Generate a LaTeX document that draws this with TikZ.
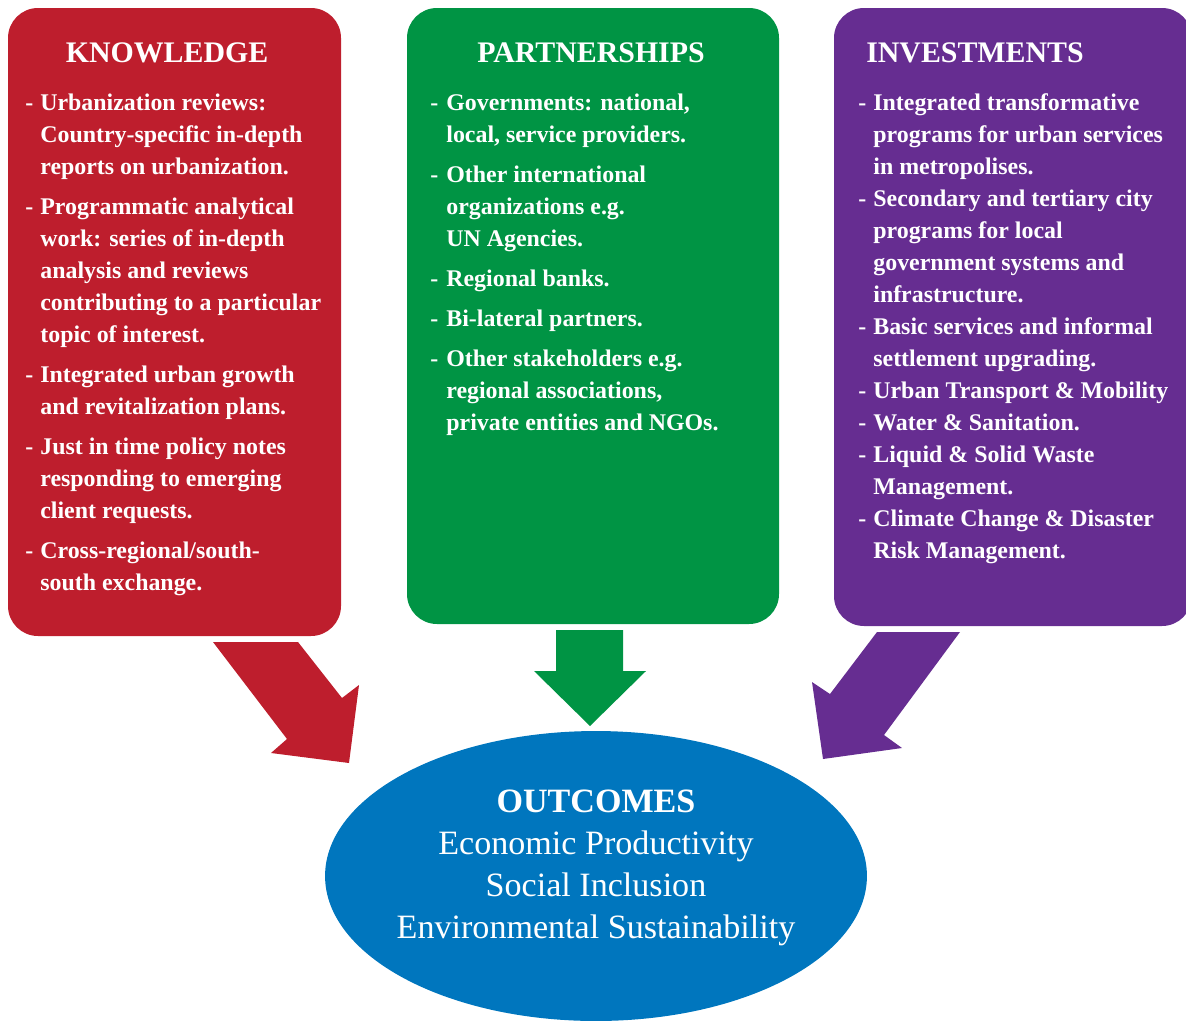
\documentclass[tikz,border=0pt]{standalone}
\usepackage{fontspec}
\setmainfont{Liberation Serif}
\usetikzlibrary{shapes.geometric}
\definecolor{knowledge red}{RGB}{190,30,45}
\definecolor{partner green}{RGB}{0,148,68}
\definecolor{invest purple}{RGB}{102,45,145}
\definecolor{outcome blue}{RGB}{0,118,190}

\begin{document}
\begin{tikzpicture}[x=0.02cm, y=-0.02cm,
		panel/.style={rounded corners=0.6cm},
		title/.style={text=white, inner sep=0, anchor=base, font=\fontsize{17}{20}\selectfont\bfseries},
		hyphen/.style={text=white, inner sep=0, anchor=base west, font=\fontsize{13.6}{18.2}\selectfont\bfseries},
		entry/.style={text=white, inner sep=0, anchor=base west, align=left, font=\fontsize{13.6}{18.2}\selectfont\bfseries}]
			\useasboundingbox (0, 0) rectangle (1186, 1021);
			% panels
			\fill[knowledge red, panel] (8, 8) rectangle (341, 636);
			\fill[partner green, panel] (407, 8) rectangle (779, 624);
			\fill[invest purple, panel] (834, 8) rectangle (1192, 626);
			% block arrows
			\fill[knowledge red] (213, 642) -- (298, 642) -- (342, 698) -- (359, 685)
				-- (349, 763) -- (271, 753) -- (287, 739) -- cycle;
			\fill[partner green] (556, 630) -- (623, 630) -- (623, 671) -- (646, 671)
				-- (590, 726) -- (534, 671) -- (556, 671) -- cycle;
			\fill[invest purple] (877, 632) -- (960, 632) -- (884, 735) -- (902, 748)
				-- (823, 759) -- (812, 682) -- (830, 694) -- cycle;
			% outcomes (base = last line)
			\node[ellipse, fill=outcome blue, inner sep=0, minimum width=10.84cm, minimum height=5.8cm] (out) at (596, 876) {};
			\node[text=white, inner sep=0, anchor=base, align=center, font=\fontsize{19.4}{23.8}\selectfont] (outlbl) at (596, 938)
				{\bfseries OUTCOMES\\Economic Productivity\\Social Inclusion\\Environmental Sustainability};
			% knowledge
			\node[title] (know) at (167, 62) {KNOWLEDGE};
			\node[hyphen] (kd1) at (25, 110) {-};
			\node[entry] (k1) at (40, 174) {Urbanization reviews:\\Country-specific in-depth\\reports on urbanization.};
			\node[hyphen] (kd2) at (25, 214) {-};
			\node[entry] (k2) at (40, 342) {Programmatic analytical\\work: series of in-depth\\analysis and reviews\\contributing to a particular\\topic of interest.};
			\node[hyphen] (kd3) at (25, 382) {-};
			\node[entry] (k3) at (40, 414) {Integrated urban growth\\and revitalization plans.};
			\node[hyphen] (kd4) at (25, 454) {-};
			\node[entry] (k4) at (40, 518) {Just in time policy notes\\responding to emerging\\client requests.};
			\node[hyphen] (kd5) at (25, 558) {-};
			\node[entry] (k5) at (40, 590) {Cross-regional/south-\\south exchange.};
			% partnerships
			\node[title] (part) at (591, 62) {PARTNERSHIPS};
			\node[hyphen] (pd1) at (430, 110) {-};
			\node[entry] (p1) at (446, 142) {Governments: national,\\local, service providers.};
			\node[hyphen] (pd2) at (430, 182) {-};
			\node[entry] (p2) at (446, 246) {Other international\\organizations e.g.\\UN Agencies.};
			\node[hyphen] (pd3) at (430, 286) {-};
			\node[entry] (p3) at (446, 286) {Regional banks.};
			\node[hyphen] (pd4) at (430, 326) {-};
			\node[entry] (p4) at (446, 326) {Bi-lateral partners.};
			\node[hyphen] (pd5) at (430, 366) {-};
			\node[entry] (p5) at (446, 430) {Other stakeholders e.g.\\regional associations,\\private entities and NGOs.};
			% investments
			\node[title] (inv) at (975, 62) {INVESTMENTS};
			\node[hyphen] (id1) at (858, 110) {-};
			\node[entry] (i1) at (873, 174) {Integrated transformative\\programs for urban services\\in metropolises.};
			\node[hyphen] (id2) at (858, 206) {-};
			\node[entry] (i2) at (873, 302) {Secondary and tertiary city\\programs for local\\government systems and\\infrastructure.};
			\node[hyphen] (id3) at (858, 334) {-};
			\node[entry] (i3) at (873, 366) {Basic services and informal\\settlement upgrading.};
			\node[hyphen] (id4) at (858, 398) {-};
			\node[entry] (i4) at (873, 398) {Urban Transport \& Mobility};
			\node[hyphen] (id5) at (858, 430) {-};
			\node[entry] (i5) at (873, 430) {Water \& Sanitation.};
			\node[hyphen] (id6) at (858, 462) {-};
			\node[entry] (i6) at (873, 494) {Liquid \& Solid Waste\\Management.};
			\node[hyphen] (id7) at (858, 526) {-};
			\node[entry] (i7) at (873, 558) {Climate Change \& Disaster\\Risk Management.};
		\end{tikzpicture}
\end{document}
